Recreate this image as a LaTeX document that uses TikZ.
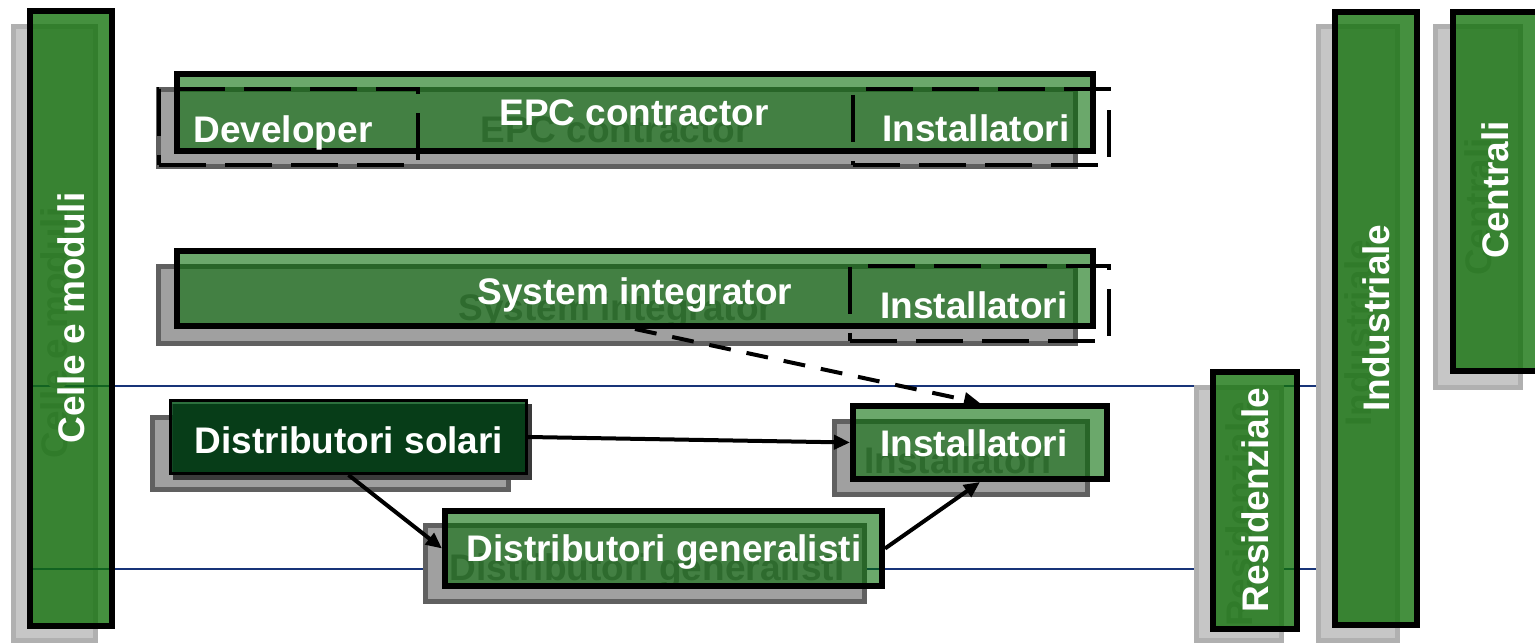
\documentclass[tikz,border=0pt]{standalone}
\usepackage{fontspec}
\setmainfont{Liberation Sans}
\usetikzlibrary{arrows.meta}
\definecolor{hgreen}{RGB}{0,105,0}
\definecolor{vgreen}{RGB}{17,113,9}
\definecolor{dsgreen}{RGB}{0,62,20}
\definecolor{shdfill}{RGB}{160,160,160}
\definecolor{shdline}{RGB}{96,96,96}
\definecolor{vshdfill}{RGB}{198,198,198}
\definecolor{vshdline}{RGB}{176,176,176}
\definecolor{shtext}{RGB}{110,110,110}
\definecolor{vshtext}{RGB}{160,160,160}
\definecolor{navyline}{RGB}{24,52,120}
\definecolor{edgegray}{RGB}{160,170,190}
\definecolor{dropgray}{RGB}{58,58,58}
\tikzset{
  hshadow/.style={rectangle, draw=shdline, fill=shdfill, line width=5pt, inner sep=0pt},
  vshadow/.style={rectangle, draw=vshdline, fill=vshdfill, line width=5pt, inner sep=0pt},
  hbox/.style={rectangle, draw=black, line width=6pt, fill=hgreen, fill opacity=0.58, draw opacity=1, inner sep=0pt},
  vbox/.style={rectangle, draw=black, line width=6pt, fill=vgreen, fill opacity=0.78, draw opacity=1, inner sep=0pt},
  dsbox/.style={rectangle, draw=black, line width=3pt, fill=dsgreen, fill opacity=0.88, draw opacity=1, inner sep=0pt},
  dropbox/.style={rectangle, fill=dropgray, inner sep=0pt},
  dashbox/.style={rectangle, draw=black, line width=4.5pt, dash pattern=on 47pt off 19pt, inner sep=0pt},
  lbl/.style={font=\bfseries\fontsize{37}{40}\selectfont, text height=26.5pt, text depth=0pt, inner sep=0pt},
  wlbl/.style={lbl, text=white},
  slbl/.style={lbl, text=shtext},
  vwlbl/.style={lbl, text=white, rotate=90},
  vslbl/.style={lbl, text=vshtext, rotate=90},
  arr/.style={draw=black, line width=4pt, -{Triangle[length=16pt,width=14pt]}},
  darr/.style={arr, dash pattern=on 22pt off 16pt},
}
\begin{document}
\begin{tikzpicture}[x=1pt,y=-1pt]
\useasboundingbox (0,0) rectangle (1535,644);
% shadow of left bar
\node[vshadow, minimum width=82pt, minimum height=614pt] (celleS) at (54.5,333.5) {};
% background band lines
\draw[navyline, line width=1.8pt] (27,386) -- (1327,386);
\draw[navyline, line width=1.8pt] (27,569) -- (1327,569);
\draw[edgegray, line width=1.5pt] (1327,386) -- (1327,569);
% other shadows
\node[vshadow, minimum width=85pt, minimum height=253pt] (resS) at (1239,514) {};
\node[vshadow, minimum width=79pt, minimum height=614pt] (indS) at (1358,333.5) {};
\node[vshadow, minimum width=85pt, minimum height=361pt] (cenS) at (1478,207) {};
\node[hshadow, minimum width=917pt, minimum height=77pt] (epcS) at (617,128) {};
\node[hshadow, minimum width=917pt, minimum height=77pt] (siS) at (617,305) {};
\node[hshadow, minimum width=356pt, minimum height=72pt] (dsS) at (330.5,453.5) {};
\node[hshadow, minimum width=253pt, minimum height=73pt] (inS) at (961,458) {};
\node[hshadow, minimum width=439pt, minimum height=76pt] (dgS) at (645,563.5) {};
% shadow texts
\node[vslbl] (celleST) at (54.5,333) {Celle e moduli};
\node[vslbl] (resST) at (1239,514) {Residenziale};
\node[vslbl] (indST) at (1358,333) {Industriale};
\node[vslbl] (cenST) at (1478,207) {Centrali};
\node[slbl] (epcST) at (615,129) {EPC contractor};
\node[slbl] (siST) at (616,307) {System integrator};
\node[slbl] (dsST) at (330,455) {Distributori solari};
\node[slbl] (inST) at (958,460) {Installatori};
\node[slbl] (dgST) at (647,567) {Distributori generalisti};
% green boxes
\node[vbox, minimum width=82pt, minimum height=615pt] (celle) at (71,318.5) {};
\node[vbox, minimum width=84pt, minimum height=257pt] (res) at (1255,500.5) {};
\node[vbox, minimum width=82pt, minimum height=613pt] (ind) at (1376,318.5) {};
\node[vbox, minimum width=89pt, minimum height=359pt] (cen) at (1497.5,191.5) {};
\node[hbox, minimum width=916pt, minimum height=77pt] (epc) at (635,112.5) {};
\node[hbox, minimum width=916pt, minimum height=75pt] (si) at (635,288.5) {};
\node[dropbox, minimum width=359pt, minimum height=76pt] (dsdrop) at (352.5,442) {};
\node[dsbox, minimum width=356pt, minimum height=73pt] (ds) at (348.5,437) {};
\draw[color={rgb,255:red,45;green,112;blue,62}, line width=2.5pt] (ds.north west) ++(3,4) -- ([xshift=-3pt,yshift=-4pt]ds.north east);
\node[hbox, minimum width=254pt, minimum height=73pt] (inst) at (980,442.5) {};
\node[hbox, minimum width=437pt, minimum height=75pt] (dg) at (663.5,548.5) {};
% dashed boxes
\node[dashbox, minimum width=259pt, minimum height=76pt] (dev) at (288.5,127) {};
\node[dashbox, minimum width=256pt, minimum height=76pt] (itop) at (981,127) {};
\node[dashbox, minimum width=259pt, minimum height=75pt] (imid) at (979.5,303.5) {};
% white labels
\node[vwlbl] (celleT) at (71,318) {Celle e moduli};
\node[vwlbl] (resT) at (1255,500) {Residenziale};
\node[vwlbl] (indT) at (1376,318) {Industriale};
\node[vwlbl] (cenT) at (1495,190) {Centrali};
\node[wlbl] (epcT) at (634,112) {EPC contractor};
\node[wlbl] (devT) at (283,129) {Developer};
\node[wlbl] (itopT) at (976,128) {Installatori};
\node[wlbl] (siT) at (635,291) {System integrator};
\node[wlbl] (imidT) at (974,305) {Installatori};
\node[wlbl] (dsT) at (349,440) {Distributori solari};
\node[wlbl] (instT) at (974,443) {Installatori};
\node[wlbl] (dgT) at (664,548) {Distributori generalisti};
% connectors
\draw[darr] (si.south) -- (inst.north);
\draw[arr] (ds.east) -- (inst.west);
\draw[arr] (ds.south) -- (dg.west);
\draw[arr] (dg.east) -- (inst.south);
\end{tikzpicture}
\end{document}
